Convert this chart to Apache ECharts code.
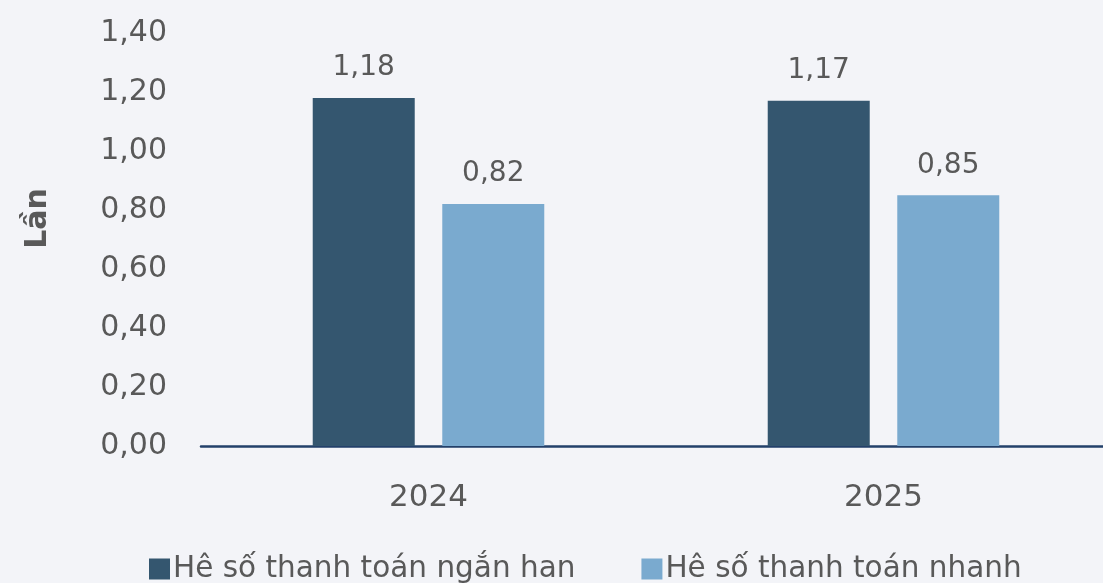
<!DOCTYPE html>
<html>
<head>
<meta charset="utf-8">
<script src="https://cdn.jsdelivr.net/npm/echarts@6/dist/echarts.min.js"></script>
<style>
html,body{margin:0;padding:0;background:#f3f4f8;overflow:hidden;width:1103px;height:583px;}
#c{width:1111px;height:583px;}
</style>
</head>
<body>
<div id="c"></div>
<script>
const categories = ['2024', '2025'];
const shortTerm = [1.18, 1.17];
const quick = [0.82, 0.85];
const seriesNames = ['Hê số thanh toán ngắn han', 'Hê số thanh toán nhanh'];
const yAxisTitle = 'Lần';

const font = 'DejaVu Sans';
const txt = '#595959';
const fmt = v => v.toFixed(2).replace('.', ',');

const chart = echarts.init(document.getElementById('c'));
chart.setOption({
  backgroundColor: '#f3f4f8',
  animation: false,
  textStyle: { fontFamily: font, color: txt },
  grid: { left: 201, right: 0, top: 33, bottom: 137, containLabel: false },
  legend: {
    left: 144, top: 549, itemWidth: 21, itemHeight: 21, itemGap: 66,
    icon: 'rect',
    textStyle: { fontFamily: font, fontSize: 29.5, color: txt, padding: [0, 0, 0, -2] },
    data: seriesNames
  },
  xAxis: {
    type: 'category', data: categories,
    axisLine: { show: true, lineStyle: { color: '#23406a', width: 2.5 } },
    axisTick: { show: false },
    axisLabel: { fontFamily: font, fontSize: 31, color: txt, margin: 36 }
  },
  yAxis: {
    type: 'value', min: 0, max: 1.4, interval: 0.2,
    name: yAxisTitle, nameLocation: 'middle', nameGap: 148, nameRotate: 90,
    nameTextStyle: { fontFamily: font, fontSize: 30, fontWeight: 'bold', color: txt, padding: [0, 0, 0, 42] },
    axisLine: { show: false }, axisTick: { show: false }, splitLine: { show: false },
    axisLabel: { fontFamily: font, fontSize: 30, color: txt, margin: 34, formatter: v => fmt(v) }
  },
  series: [
    {
      name: seriesNames[0], type: 'bar', data: shortTerm, barWidth: 102, barGap: '27%',
      itemStyle: { color: '#34566f' },
      label: { show: true, position: 'top', distance: 16, fontFamily: font, fontSize: 28, color: txt, formatter: p => fmt(p.value) }
    },
    {
      name: seriesNames[1], type: 'bar', data: quick, barWidth: 102,
      itemStyle: { color: '#7aaacf' },
      label: { show: true, position: 'top', distance: 16, fontFamily: font, fontSize: 28, color: txt, formatter: p => fmt(p.value) }
    }
  ]
});
</script>
</body>
</html>
